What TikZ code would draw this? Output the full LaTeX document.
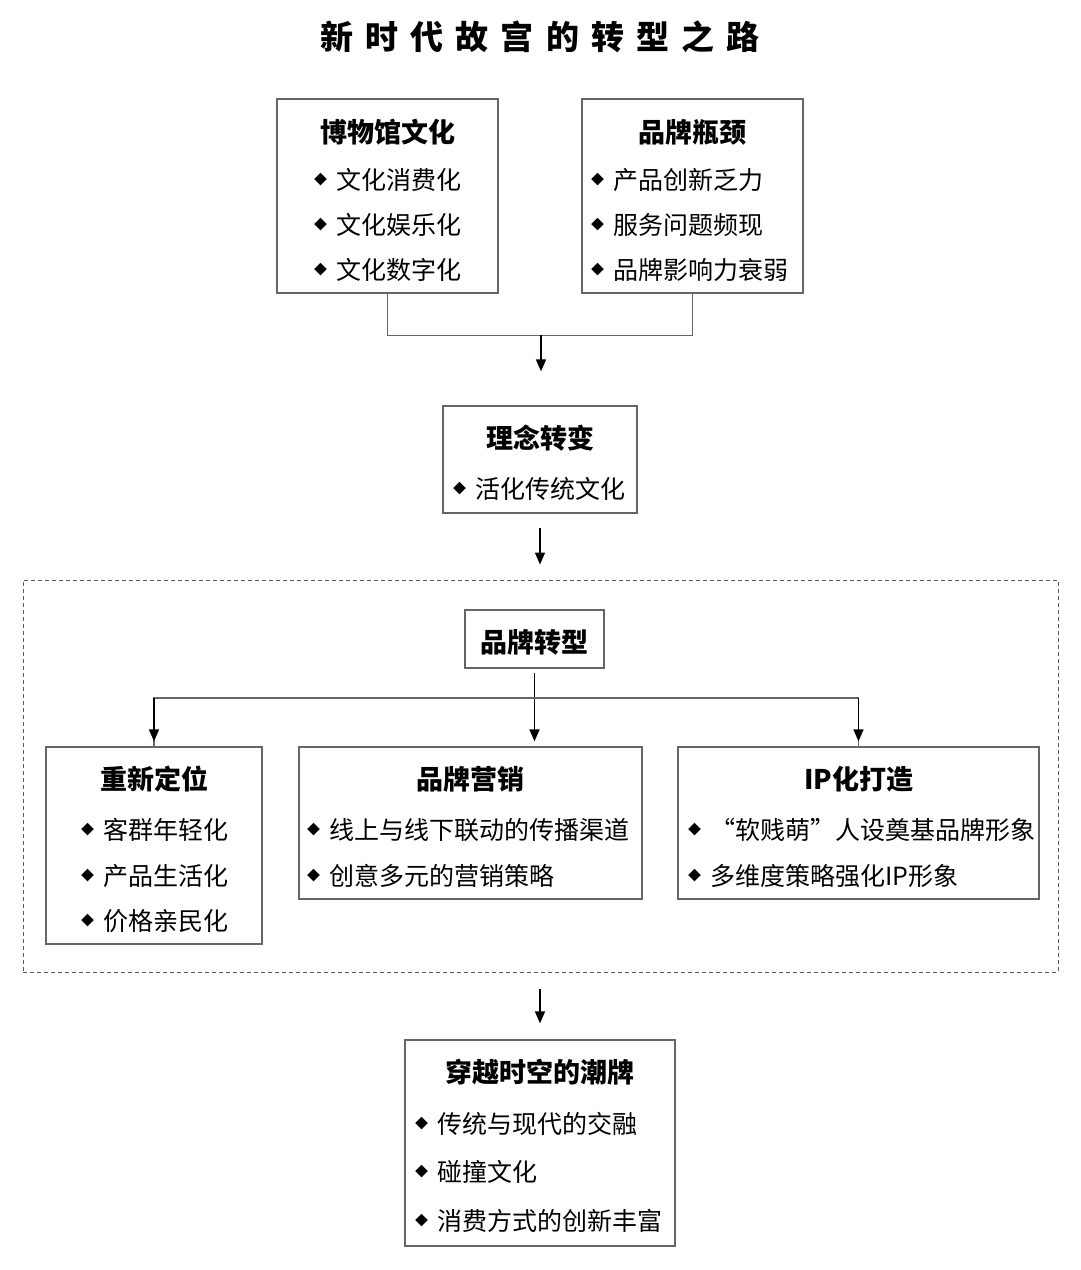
\documentclass[tikz,border=0pt]{standalone}
\usepackage{fontspec}
\setmainfont{Noto Sans CJK SC}
\newfontfamily\headfont[LetterSpace=37]{Noto Sans CJK SC}
\usepackage{tikz}
\usetikzlibrary{arrows.meta, positioning, calc}

\begin{document}
\begin{tikzpicture}[
    x=1pt, y=-1pt,
    box/.style={draw=black!60, line width=1.3pt, rectangle, inner sep=0pt},
    group/.style={draw=black!65, line width=1pt, dash pattern=on 4pt off 3pt, rectangle, inner sep=0pt},
    head/.style={inner sep=0pt, font=\bfseries\fontsize{27}{27}\selectfont},
    item/.style={inner sep=0pt, anchor=west, font=\fontsize{25}{25}\selectfont,
        execute at begin node={\raisebox{5pt}{\fontsize{13}{13}\selectfont ◆}\hspace{9pt}}},
    link/.style={draw=black!60, line width=1pt},
    arr/.style={draw, -{Triangle[width=10pt,length=12pt]}, line width=1.6pt}
]
    \useasboundingbox (0,0) rectangle (1080,1270);

    \node[inner sep=0pt, font=\headfont\bfseries\fontsize{33}{33}\selectfont] (title) at (540,37) {新时代故宫的转型之路};

    % Top row
    \node[box, minimum width=221pt, minimum height=194pt] (museum) at (387.5,196) {};
    \node[head] (museumh) at (387.5,132) {博物馆文化};
    \node[item] (m1) at (314,180) {文化消费化};
    \node[item] (m2) at (314,225) {文化娱乐化};
    \node[item] (m3) at (314,270) {文化数字化};

    \node[box, minimum width=221pt, minimum height=194pt] (bottleneck) at (692.5,196) {};
    \node[head] (bottleneckh) at (692.5,132) {品牌瓶颈};
    \node[item] (b1) at (591,180) {产品创新乏力};
    \node[item] (b2) at (591,225) {服务问题频现};
    \node[item] (b3) at (591,270) {品牌影响力衰弱};

    % Idea
    \node[box, minimum width=194pt, minimum height=107pt] (idea) at (540,459.5) {};
    \node[head] (ideah) at (540,438) {理念转变};
    \node[item] (i1) at (453,489) {活化传统文化};

    \coordinate (join) at (541,335);
    \draw[link] (museum.south) |- (bottleneck.south |- join) -- (bottleneck.south);
    \draw[arr, shorten >=34pt] (join) -- (idea.north -| join);

    % Brand transformation group
    \node[group, minimum width=1035pt, minimum height=392pt] (group) at (540.5,776) {};
    \draw[arr, shorten <=14pt, shorten >=15pt] (idea.south) -- (idea.south |- group.north);

    \node[box, minimum width=139pt, minimum height=58pt] (brand) at (534.5,639) {};
    \node[head] (brandh) at (534.5,642) {品牌转型};

    \node[box, minimum width=216pt, minimum height=197pt] (reposition) at (154,845.5) {};
    \node[head] (repositionh) at (154,779) {重新定位};
    \node[item] (r1) at (81,830) {客群年轻化};
    \node[item] (r2) at (81,876) {产品生活化};
    \node[item] (r3) at (81,921) {价格亲民化};

    \node[box, minimum width=343pt, minimum height=152pt] (marketing) at (470.5,823) {};
    \node[head] (marketingh) at (470.5,779) {品牌营销};
    \node[item] (k1) at (307,830) {线上与线下联动的传播渠道};
    \node[item] (k2) at (307,876) {创意多元的营销策略};

    \node[box, minimum width=361pt, minimum height=152pt] (ipmake) at (858.5,823) {};
    \node[head] (ipmakeh) at (858.5,779) {IP化打造};
    \node[item] (p1) at (688,830) {“软贱萌”人设奠基品牌形象};
    \node[item] (p2) at (688,876) {多维度策略强化IP形象};

    \coordinate (split) at (534.5,698);
    \draw[arr, shorten <=4pt, shorten >=5pt] (brand.south) -- (brand.south |- marketing.north);
    \draw[link, line width=1.2pt] (split) -| (reposition.north);
    \draw[link, line width=1.2pt] (split) -| (ipmake.north);
    \draw[arr, shorten >=5pt] (reposition.north |- split) -- (reposition.north);
    \draw[arr, shorten >=5pt] (ipmake.north |- split) -- (ipmake.north);

    % Result
    \node[box, minimum width=270pt, minimum height=206pt] (trend) at (540,1143) {};
    \node[head] (trendh) at (540,1072) {穿越时空的潮牌};
    \node[item] (t1) at (415,1124) {传统与现代的交融};
    \node[item] (t2) at (415,1172) {碰撞文化};
    \node[item] (t3) at (415,1221) {消费方式的创新丰富};

    \draw[arr, shorten <=16pt, shorten >=16pt] (group.south -| trend.north) -- (trend.north);
\end{tikzpicture}
\end{document}
